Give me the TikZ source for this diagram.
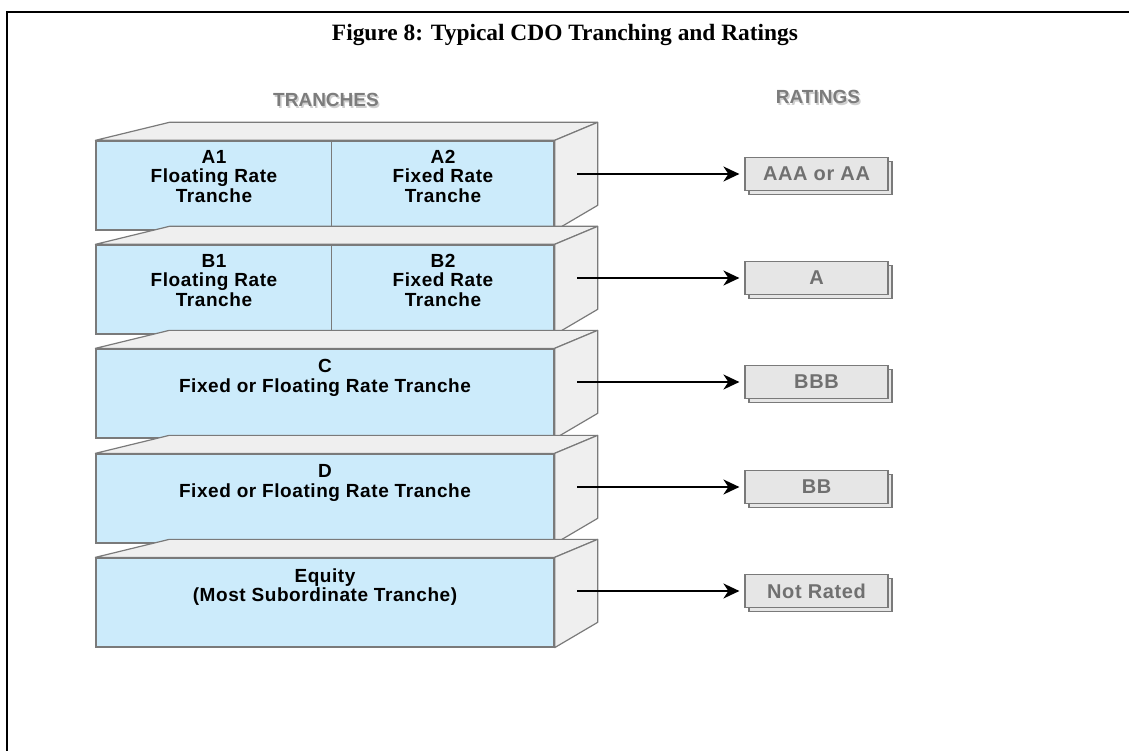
\documentclass[tikz,border=0pt]{standalone}
\usepackage{fontspec}
\setmainfont{Liberation Serif}
\newfontfamily\boxfont[LetterSpace=3]{Liberation Sans}
\newfontfamily\headfont{Liberation Sans}
\usetikzlibrary{arrows.meta,shadows,calc}

\definecolor{faceblue}{HTML}{CCEBFB}
\definecolor{sidegray}{HTML}{EFEFEF}
\definecolor{edgegray}{HTML}{7A7A7A}
\definecolor{ratefill}{HTML}{E6E6E6}
\definecolor{ratetext}{HTML}{707070}
\definecolor{headgray}{HTML}{7C7C7C}
\definecolor{headshadow}{HTML}{CFCFCF}

\tikzset{
  front/.style={draw=edgegray, line width=1.3pt, fill=faceblue,
    minimum width=458pt, minimum height=89pt, inner sep=0pt},
  face/.style={draw=edgegray, line width=1.2pt, fill=sidegray, line join=round},
  divider/.style={draw=edgegray, line width=1.2pt},
  tranchetext/.style={font=\boxfont\bfseries\fontsize{19}{19.5}\selectfont,
    align=center, text=black, inner sep=0pt},
  rating/.style={draw=edgegray, line width=1.2pt, fill=ratefill,
    minimum width=143pt, minimum height=33pt, inner sep=0pt,
    font=\boxfont\bfseries\fontsize{20}{21}\selectfont, text=ratetext,
    copy shadow={shadow xshift=4pt, shadow yshift=-4pt, fill=ratefill,
      draw=edgegray, line width=1.2pt}},
  feed/.style={-{Stealth[length=16pt,width=15pt,inset=5pt]},
    line width=2pt, black, shorten >=5pt},
  head/.style={font=\headfont\bfseries\fontsize{19}{20}\selectfont, text=headgray},
  headshade/.style={font=\headfont\bfseries\fontsize{19}{20}\selectfont, text=headshadow},
}

% top and right faces of a slab whose front face is node #1
\newcommand{\slabfaces}[1]{%
  \draw[face] (#1.north west) -- ++(74,-18) -- ($(#1.north east)+(43,-18)$)
    -- (#1.north east) -- cycle;
  \draw[face] (#1.north east) -- ++(43,-18) -- ++(0,83) -- (#1.south east) -- cycle;
}

\begin{document}
\begin{tikzpicture}[x=1pt,y=-1pt]
\useasboundingbox (0,0) rectangle (1129,751);

% frame
\draw[line width=2pt] (7,752) -- (7,12) -- (1130,12);

% title
\node (title) at (565,35)
  {\bfseries\fontsize{23.4}{26}\selectfont Figure 8: Typical CDO Tranching and Ratings};

% column heads
\node[headshade] (trancheshade) at (327.5,101.5) {TRANCHES};
\node[head] (tranches) at (326,100) {TRANCHES};
\node[headshade] (ratingshade) at (819.5,98.5) {RATINGS};
\node[head] (ratings) at (818,97) {RATINGS};

% slab A
\node[front] (A) at (325,185.5) {};
\slabfaces{A}
\draw[divider] ($(A.north west)+(236,0)$) -- ($(A.south west)+(236,0)$);
\node[tranchetext, anchor=north] (a1) at (214,150) {A1\\Floating Rate\\Tranche};
\node[tranchetext, anchor=north] (a2) at (443,150) {A2\\Fixed Rate\\Tranche};

% slab B
\node[front] (B) at (325,289.5) {};
\slabfaces{B}
\draw[divider] ($(B.north west)+(236,0)$) -- ($(B.south west)+(236,0)$);
\node[tranchetext, anchor=north] (b1) at (214,254) {B1\\Floating Rate\\Tranche};
\node[tranchetext, anchor=north] (b2) at (443,254) {B2\\Fixed Rate\\Tranche};

% slab C
\node[front] (C) at (325,393.5) {};
\slabfaces{C}
\node[tranchetext] (c) at (325,378) {C\\Fixed or Floating Rate Tranche};

% slab D
\node[front] (D) at (325,498.5) {};
\slabfaces{D}
\node[tranchetext] (d) at (325,483) {D\\Fixed or Floating Rate Tranche};

% slab E
\node[front] (E) at (325,602.5) {};
\slabfaces{E}
\node[tranchetext] (e) at (325,587) {Equity\\(Most Subordinate Tranche)};

% ratings
\node[rating] (rA) at (816.5,174) {AAA or AA};
\node[rating] (rB) at (816.5,278) {A};
\node[rating] (rC) at (816.5,382) {BBB};
\node[rating] (rD) at (816.5,487) {BB};
\node[rating] (rE) at (816.5,591) {Not Rated};

% arrows from slabs to ratings
\coordinate (sA) at (577,174);
\coordinate (sB) at (577,278);
\coordinate (sC) at (577,382);
\coordinate (sD) at (577,487);
\coordinate (sE) at (577,591);
\draw[feed] (sA) -- (rA.west);
\draw[feed] (sB) -- (rB.west);
\draw[feed] (sC) -- (rC.west);
\draw[feed] (sD) -- (rD.west);
\draw[feed] (sE) -- (rE.west);
\end{tikzpicture}
\end{document}
